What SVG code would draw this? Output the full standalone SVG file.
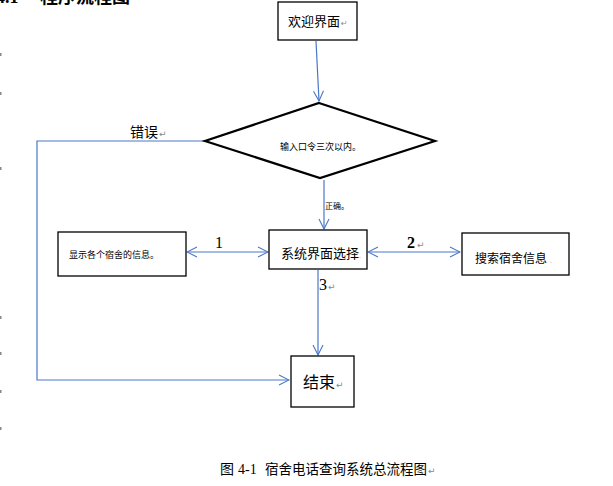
<svg xmlns="http://www.w3.org/2000/svg" width="613" height="486" viewBox="0 0 613 486">
<style>
.box{fill:#fff;stroke:#000;stroke-width:1.3}
.dia{fill:#fff;stroke:#000;stroke-width:2.2}
.con{fill:none;stroke:#4a78c8;stroke-width:1.2}
.cjk{font-family:"Noto Sans CJK SC","Noto Sans",sans-serif;fill:#000}
.num{font-family:"Liberation Serif",serif;fill:#000}
.pm{font-family:"DejaVu Sans",sans-serif;fill:#888}
.tick{fill:#888}
</style>
<defs>
<marker id="arr" viewBox="0 0 12 12" refX="11" refY="6" markerWidth="12" markerHeight="12" markerUnits="userSpaceOnUse" orient="auto-start-reverse">
<path d="M1,1 L11,6 L1,11" fill="none" stroke="#4a78c8" stroke-width="1.1"/>
</marker>
</defs>
<rect width="613" height="486" fill="#fff"/>
<text x="-4" y="3" font-family="Liberation Serif,serif" font-weight="bold" font-size="18">4.1</text>
<text x="40" y="3" class="cjk" font-size="18" font-weight="bold">程序流程图</text>
<g id="ticks">
<rect class="tick" x="0" y="53" width="1.5" height="3"/>
<rect class="tick" x="0" y="92" width="1.5" height="3"/>
<rect class="tick" x="0" y="167" width="1.5" height="3"/>
<rect class="tick" x="0" y="316" width="1.5" height="3"/>
<rect class="tick" x="0" y="352" width="1.5" height="3"/>
<rect class="tick" x="0" y="390" width="1.5" height="3"/>
<rect class="tick" x="0" y="427" width="1.5" height="3"/>
</g>
<g id="connectors">
<line class="con" x1="316" y1="41" x2="319" y2="101" marker-end="url(#arr)"/>
<line class="con" x1="324" y1="180" x2="324" y2="229" marker-end="url(#arr)"/>
<line class="con" x1="187" y1="252" x2="268" y2="252" marker-start="url(#arr)" marker-end="url(#arr)"/>
<line class="con" x1="368" y1="252" x2="460" y2="252" marker-start="url(#arr)" marker-end="url(#arr)"/>
<line class="con" x1="318" y1="270" x2="318" y2="355" marker-end="url(#arr)"/>
<polyline class="con" points="205,141 37,141 37,380 289,380" marker-end="url(#arr)"/>
<text x="130" y="137" class="cjk" font-size="14">错误</text>
<text x="159" y="137" class="pm" font-size="9">↵</text>
<text x="325" y="209" class="cjk" font-size="8">正确。</text>
<text x="215" y="248" class="num" font-size="16">1</text>
<text x="407" y="248" class="num" font-size="16" font-weight="bold">2</text>
<text x="417" y="248" class="pm" font-size="9">↵</text>
<text x="319" y="290" class="num" font-size="16">3</text>
<text x="328" y="290" class="pm" font-size="9">↵</text>
</g>
<g id="welcome">
<rect class="box" x="278" y="2" width="79" height="38"/>
<text x="288" y="26" class="cjk" font-size="13">欢迎界面</text>
<text x="341" y="26" class="pm" font-size="8">↵</text>
</g>
<g id="decision">
<polygon class="dia" points="319,103 435,141 320,178 205,141"/>
<text x="280" y="150" class="cjk" font-size="9">输入口令三次以内。</text>
</g>
<g id="show">
<rect class="box" x="58" y="232" width="128" height="44"/>
<text x="69" y="258" class="cjk" font-size="9">显示各个宿舍的信息。</text>
</g>
<g id="system">
<rect class="box" x="269" y="230" width="98" height="39"/>
<text x="281" y="258" class="cjk" font-size="13">系统界面选择</text>
<text x="359" y="258" class="pm" font-size="6">.</text>
</g>
<g id="search">
<rect class="box" x="462" y="233" width="107" height="42"/>
<text x="475" y="263" class="cjk" font-size="12">搜索宿舍信息</text>
<text x="550" y="263" class="pm" font-size="6">.</text>
</g>
<g id="end">
<rect class="box" x="291" y="356" width="63" height="51"/>
<text x="303" y="388" class="cjk" font-size="16">结束</text>
<text x="336" y="388" class="pm" font-size="9">↵</text>
</g>
<g id="caption">
<text x="220" y="474" class="cjk" font-size="14">图</text>
<text x="238" y="474" class="num" font-size="14">4-1</text>
<text x="265" y="474" class="cjk" font-size="13.5">宿舍电话查询系统总流程图</text>
<text x="428" y="474" class="pm" font-size="9">↵</text>
</g>
</svg>
